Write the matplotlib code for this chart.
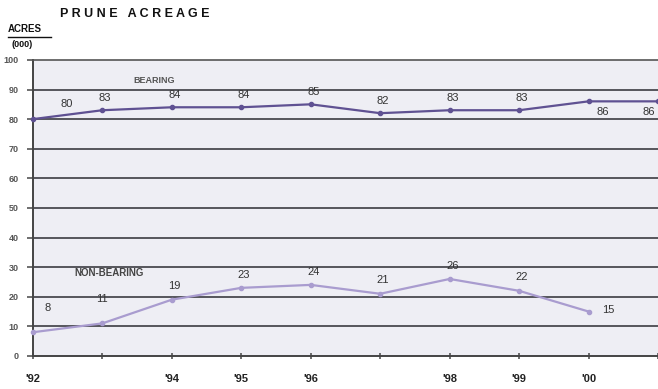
import matplotlib.pyplot as plt

# 数据
years = [1992, 1993, 1994, 1995, 1996, 1997, 1998, 1999, 2000, 2001]
bearing = [80, 83, 84, 84, 85, 82, 83, 83, 86, 86]
non_bearing_years = [1992, 1993, 1994, 1995, 1996, 1997, 1998, 1999, 2000]
non_bearing = [8, 11, 19, 23, 24, 21, 26, 22, 15]
tick_labels = ["'92", '', "'94", "'95", "'96", '', "'98", "'99", "'00", '']

plt.rcParams['font.family'] = ['Liberation Sans', 'DejaVu Sans']

fig = plt.figure(figsize=(6.58, 3.89), dpi=100)
ax = fig.add_axes([0.050, 0.085, 0.950, 0.761])
ax.set_facecolor('#eeeef4')

ax.set_xlim(1992, 2001)
ax.set_ylim(0, 100)

for y in range(10, 100, 10):
    ax.axhline(y, color='#4a4a50', lw=1.3, zorder=1)

ax.plot(years, bearing, color='#5f5192', lw=1.6, marker='o', ms=3, zorder=3, clip_on=False)
ax.plot(non_bearing_years, non_bearing, color='#a99ccf', lw=1.6, marker='o', ms=3, zorder=3, clip_on=False)

lab = dict(textcoords='offset points', fontsize=8, color='#333')

# 数据标签
for i, (x, v) in enumerate(zip(years, bearing)):
    if i == 0:
        ax.annotate(str(v), (x, v), xytext=(24, 7), ha='center', va='bottom', **lab)
    elif i == 8:
        ax.annotate(str(v), (x, v), xytext=(6, -4), ha='left', va='top', **lab)
    elif i == 9:
        ax.annotate(str(v), (x, v), xytext=(-2, -4), ha='right', va='top', **lab)
    else:
        ax.annotate(str(v), (x, v), xytext=(2, 5), ha='center', va='bottom', **lab)

for i, (x, v) in enumerate(zip(non_bearing_years, non_bearing)):
    if i == 0:
        ax.annotate(str(v), (x, v), xytext=(8, 14), ha='left', va='bottom', **lab)
    elif i == 1:
        ax.annotate(str(v), (x, v), xytext=(0, 14), ha='center', va='bottom', **lab)
    elif i == len(non_bearing) - 1:
        ax.annotate(str(v), (x, v), xytext=(10, 1), ha='left', va='center', **lab)
    else:
        ax.annotate(str(v), (x, v), xytext=(2, 6), ha='center', va='bottom', **lab)

ax.text(1993.45, 93, 'BEARING', fontsize=6.5, fontweight='bold', color='#555', va='center')
ax.text(1992.6, 28, 'NON-BEARING', fontsize=7, fontweight='bold', color='#444', va='center')

ax.set_yticks(range(0, 101, 10))
ax.set_yticklabels([str(v) for v in range(0, 101, 10)], fontsize=6.5, fontweight='bold', color='#555')
ax.tick_params(axis='y', length=4, width=1.2, color='#555', pad=6)

ax.set_xticks(years)
ax.set_xticklabels(tick_labels, fontsize=8, fontweight='bold', color='#222')
ax.tick_params(axis='x', length=4, width=1.2, color='#555', pad=11, direction='inout')

for side in ['left', 'bottom']:
    ax.spines[side].set_color('#444')
    ax.spines[side].set_linewidth(1.4)
ax.spines['top'].set_color('#555')
ax.spines['top'].set_linewidth(1.2)
ax.spines['right'].set_visible(False)

fig.text(0.091, 0.965, 'P R U N E   A C R E A G E', fontsize=9, fontweight='bold',
         color='#111', va='center')
fig.text(0.012, 0.925, 'ACRES', fontsize=7, fontweight='bold', color='#111', va='center')
fig.add_artist(plt.Line2D([0.012, 0.078], [0.906, 0.906], color='#111', lw=1))
fig.text(0.018, 0.885, '(000)', fontsize=6.5, fontweight='bold', color='#111', va='center')

fig.savefig('out.png', dpi=100)
